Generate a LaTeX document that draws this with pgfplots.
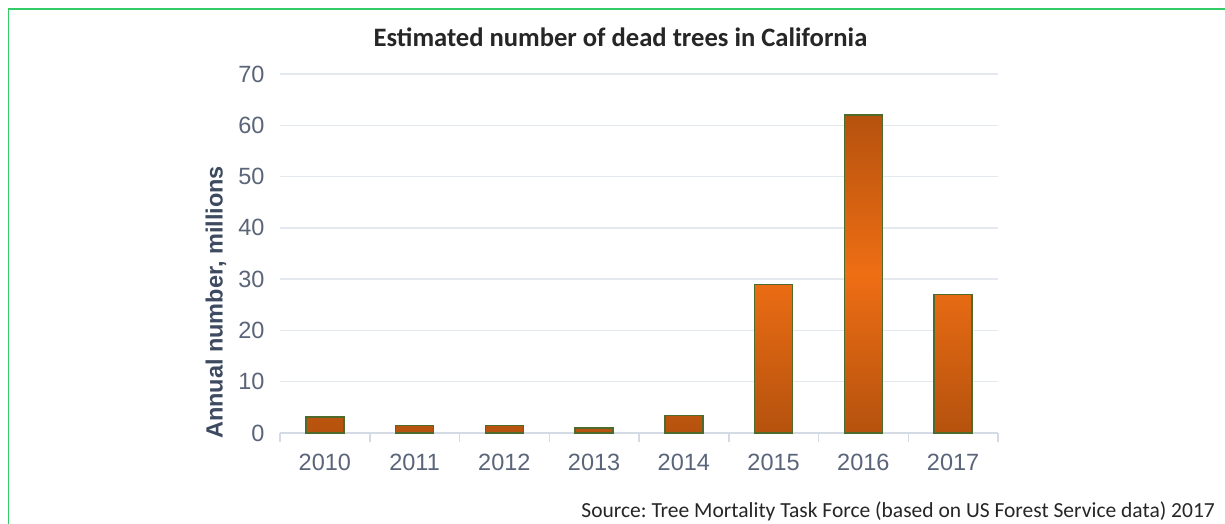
\documentclass[border=0pt]{standalone}
\usepackage{fontspec}
\setmainfont{Carlito}
\newfontfamily\arial{Liberation Sans}
\usepackage{pgfplots}
\pgfplotsset{compat=1.18}
\definecolor{tickgray}{HTML}{5B6579}
\definecolor{labelgray}{HTML}{3D4A5F}
\definecolor{gridc}{HTML}{E4E8EF}
\definecolor{axisc}{HTML}{D5DBE4}
\definecolor{bardark}{HTML}{B5520E}
\definecolor{barlight}{HTML}{EE6E14}
\definecolor{baredge}{HTML}{4E6B2C}
\definecolor{framec}{HTML}{33CC66}
\definecolor{titlec}{HTML}{262626}
\frenchspacing
\begin{document}
\begin{tikzpicture}[x=1pt,y=1pt]
\useasboundingbox (0,0) rectangle (1225,523);
\fill[white] (0,0) rectangle (1225,523);
\draw[framec, line width=1.5pt] (8.5,-2) -- (8.5,514) -- (1227,514);
\begin{axis}[
  at={(280pt,90pt)}, anchor=south west,
  scale only axis, width=718pt, height=359pt,
  xmin=-0.5, xmax=7.5, ymin=0, ymax=70,
  ybar, bar width=38pt,
  axis x line*=bottom, axis y line*=left,
  x axis line style={draw=axisc, line width=1.5pt, -},
  y axis line style={draw=none},
  xtick={0,...,7},
  xticklabels={2010,2011,2012,2013,2014,2015,2016,2017},
  ytick={0,10,...,70},
  major tick length=0pt,
  extra x ticks={-0.5,0.5,...,7.5},
  extra x tick labels={},
  extra x tick style={tick align=outside, major tick length=9pt,
     major tick style={draw=axisc, line width=1.5pt}},
  ymajorgrids, major grid style={draw=gridc, line width=1.5pt},
  /pgf/number format/assume math mode=true,
  ticklabel style={font=\arial\fontsize{23.5}{28}\selectfont, text=tickgray},
  yticklabel style={xshift=-12pt},
  xticklabel style={yshift=-18pt},
  clip=false,
]
\addplot[draw=baredge, line width=1.5pt, top color=bardark, bottom color=bardark, middle color=barlight]
 coordinates {(0,3.1) (1,1.5) (2,1.5) (3,1.0) (4,3.4) (5,29) (6,62) (7,27)};
\end{axis}
\node[font=\fontsize{26.6}{32}\selectfont\bfseries, text=titlec] at (620.5,486) {Estimated number of dead trees in California};
\node[rotate=90, font=\arial\bfseries\fontsize{23.5}{28}\selectfont, text=labelgray] at (216,220.5) {Annual number, millions};
\node[anchor=east, font=\fontsize{21.5}{26}\selectfont, text=titlec, inner sep=0pt] at (1215,12) {Source: Tree Mortality Task Force (based on US Forest Service data) 2017};
\end{tikzpicture}
\end{document}
